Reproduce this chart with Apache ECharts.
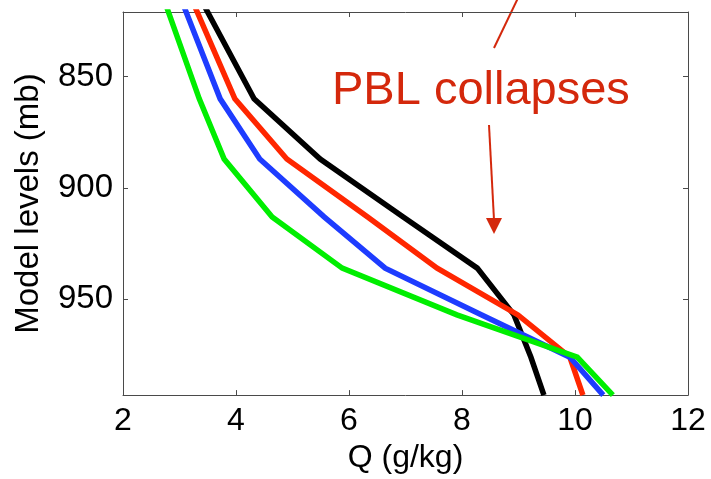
<!DOCTYPE html>
<html>
<head>
<meta charset="utf-8">
<script src="https://cdn.jsdelivr.net/npm/echarts@6/dist/echarts.min.js"></script>
<style>
  html, body { margin: 0; padding: 0; background: #fff; }
  #chart { width: 711px; height: 479px; }
</style>
</head>
<body>
<div id="chart"></div>
<script>
    // model levels (mb) and specific humidity Q (g/kg) per run
    var levels = [805, 860, 887, 913, 936, 957, 976, 993];
    var qBlack = [3.16, 4.32, 5.49, 6.96, 8.27, 8.92, 9.22, 9.45];
    var qRed = [3.04, 3.98, 4.90, 6.33, 7.56, 8.99, 9.91, 10.14];
    var qBlue = [2.87, 3.72, 4.42, 5.56, 6.64, 8.35, 9.91, 10.50];
    var qGreen = [2.58, 3.35, 3.79, 4.64, 5.88, 7.91, 10.04, 10.67];

    var xTicks = [2, 4, 6, 8, 10, 12];
    var yTicks = [850, 900, 950];
    var annotation = 'PBL collapses';

    var font = 'Liberation Sans, Arial, sans-serif';
    var frame = '#4a4a4a';

    function pairs(q) {
        return q.map(function (v, i) { return [v, levels[i]]; });
    }

    function line(name, q, color) {
        return {
            name: name,
            type: 'line',
            data: pairs(q),
            symbol: 'none',
            clip: true,
            lineStyle: {color: color, width: 5.5, join: 'miter'}
        };
    }

    var xBase = {
        type: 'value',
        min: xTicks[0], max: xTicks[xTicks.length - 1], interval: 2,
        splitLine: {show: false},
        axisLine: {show: true, lineStyle: {color: frame, width: 1}},
        axisTick: {show: true, inside: true, length: 5, lineStyle: {color: frame}}
    };
    var yBase = {
        type: 'value',
        min: 821, max: 993, inverse: true,
        splitLine: {show: false},
        axisLine: {show: true, lineStyle: {color: frame, width: 1}},
        axisTick: {show: true, inside: true, length: 5, customValues: yTicks, lineStyle: {color: frame}}
    };

    var option = {
        animation: false,
        backgroundColor: '#fff',
        grid: {left: 123, right: 23, top: 12, bottom: 82},
        xAxis: [
            Object.assign({}, xBase, {
                position: 'bottom',
                name: 'Q (g/kg)', nameLocation: 'middle', nameGap: 46,
                nameTextStyle: {fontSize: 32, color: '#000', fontFamily: font},
                axisLabel: {fontSize: 32, color: '#000', margin: 10, fontFamily: font}
            }),
            Object.assign({}, xBase, {position: 'top', axisLabel: {show: false}})
        ],
        yAxis: [
            Object.assign({}, yBase, {
                position: 'left',
                name: 'Model levels (mb)', nameLocation: 'middle', nameGap: 78,
                nameTextStyle: {fontSize: 33, color: '#000', fontFamily: font},
                axisLabel: {fontSize: 33, color: '#000', margin: 10, fontFamily: font, customValues: yTicks}
            }),
            Object.assign({}, yBase, {position: 'right', axisLabel: {show: false}})
        ],
        series: [
            line('black', qBlack, '#000000'),
            line('red', qRed, '#ff2600'),
            line('blue', qBlue, '#1e3cff'),
            line('green', qGreen, '#00ee00')
        ],
        graphic: [
            {
                type: 'text', left: 332, top: 68,
                style: {text: annotation, fontSize: 47, fill: '#d4280c', fontFamily: font}
            },
            {
                type: 'line',
                shape: {x1: 494, y1: 48, x2: 518, y2: -2},
                style: {stroke: '#d4280c', lineWidth: 2}
            },
            {
                type: 'line',
                shape: {x1: 489, y1: 125, x2: 494, y2: 220},
                style: {stroke: '#d4280c', lineWidth: 2}
            },
            {
                type: 'polygon',
                shape: {points: [[486, 218], [502, 218], [494, 234]]},
                style: {fill: '#d4280c'}
            }
        ]
    };

    var myChart = echarts.init(document.getElementById('chart'));
    myChart.setOption(option);
</script>
</body>
</html>
